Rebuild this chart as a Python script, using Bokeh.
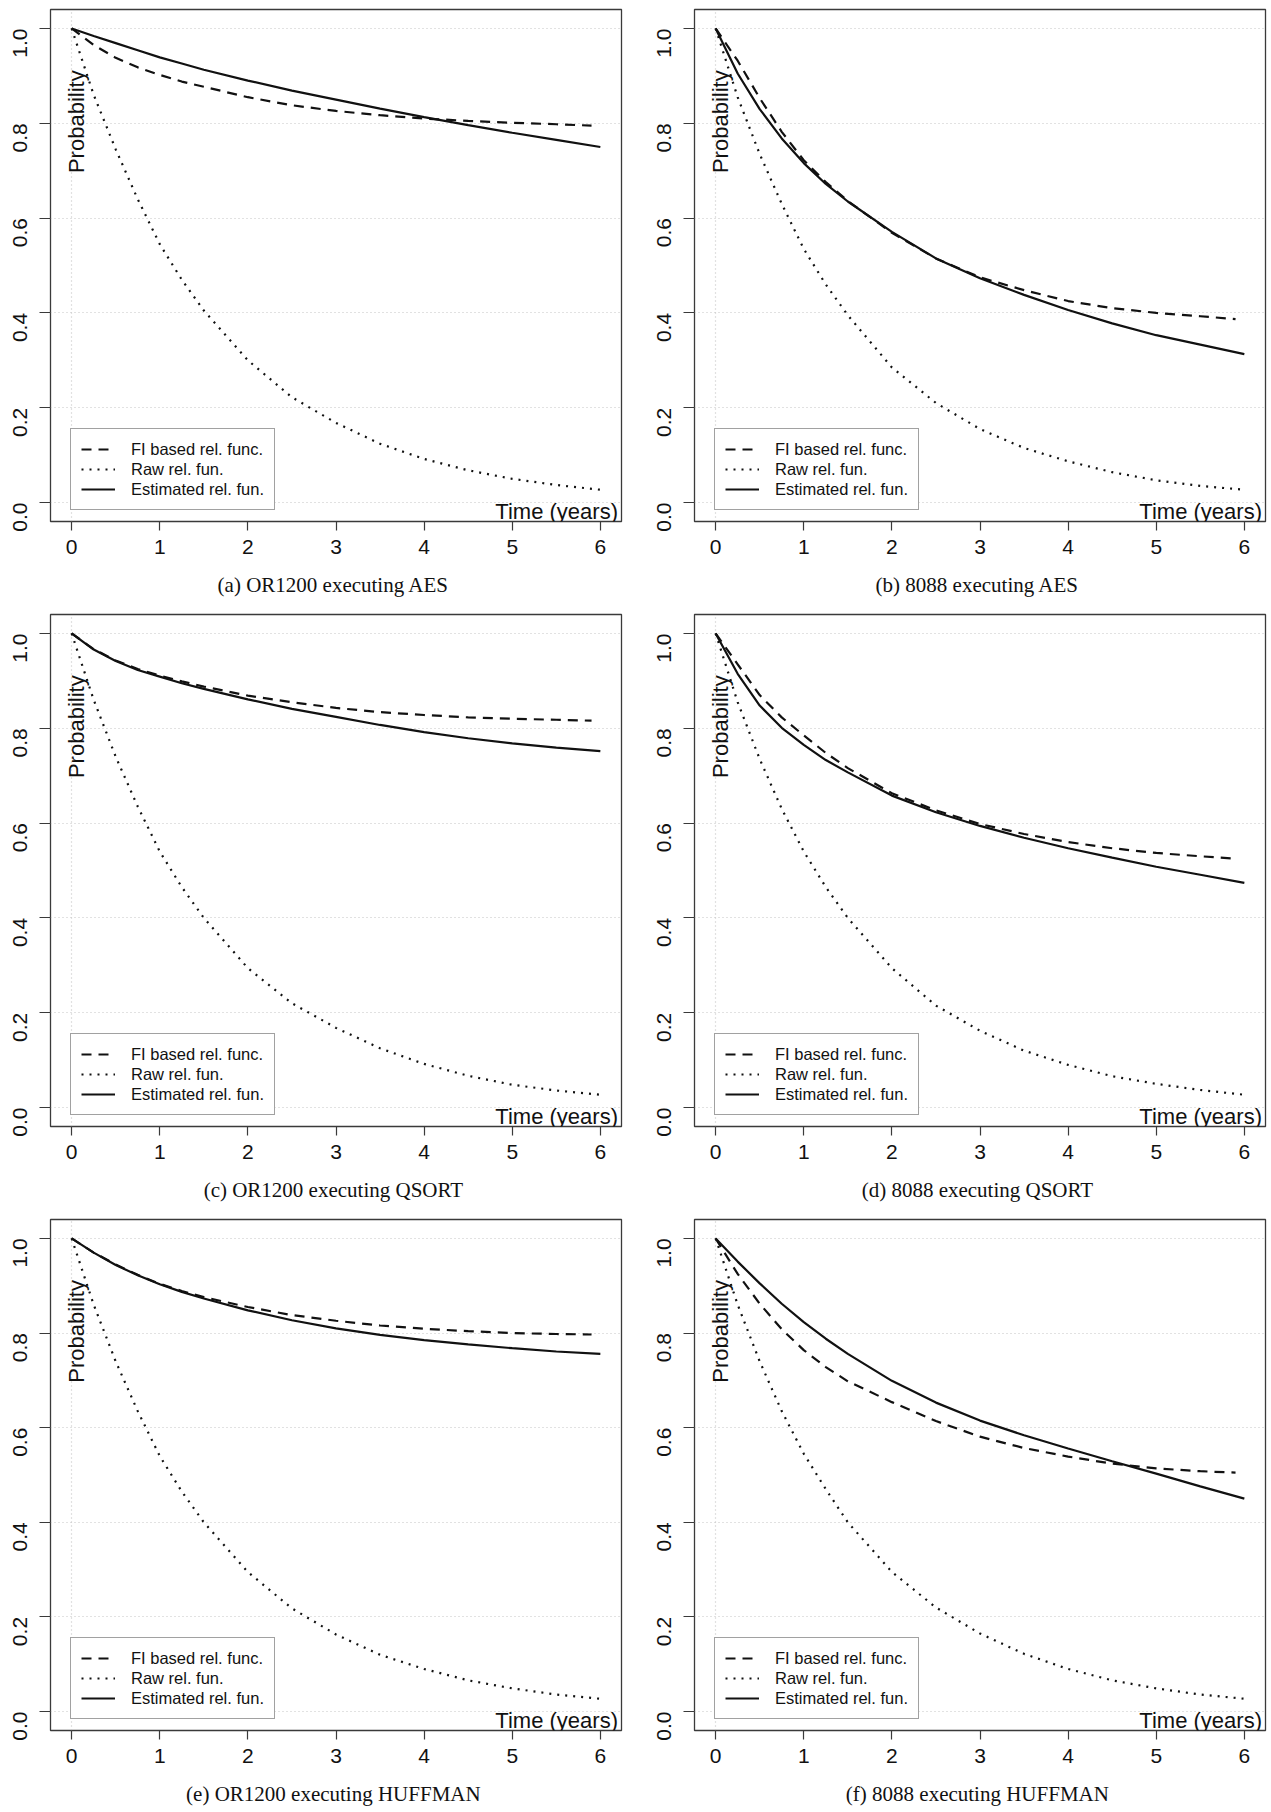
import math
from bokeh.plotting import figure
from bokeh.models import Range1d, FixedTicker, Label, Legend, LegendItem, PrintfTickFormatter
from bokeh.layouts import column, row
from bokeh.embed import file_html
from bokeh.resources import INLINE

# ---------------- data ----------------
t = [0, 0.25, 0.5, 0.75, 1, 1.25, 1.5, 2, 2.5, 3, 3.5, 4, 4.5, 5, 5.5, 6]
t_fi = [0, 0.25, 0.5, 0.75, 1, 1.25, 1.5, 2, 2.5, 3, 3.5, 4, 4.5, 5, 5.5, 5.9]

x_ticks = [0, 1, 2, 3, 4, 5, 6]
y_ticks = [0, 0.2, 0.4, 0.6, 0.8, 1.0]

legend_labels = ["FI based rel. func.", "Raw rel. fun.", "Estimated rel. fun."]
x_label = "Time (years)"
y_label = "Probability"

captions = [
    "(a)  OR1200 executing AES",
    "(b)  8088 executing AES",
    "(c)  OR1200 executing QSORT",
    "(d)  8088 executing QSORT",
    "(e)  OR1200 executing HUFFMAN",
    "(f)  8088 executing HUFFMAN",
]

# (a) OR1200 / AES
fi_a = [1.0, 0.965, 0.938, 0.918, 0.902, 0.888, 0.877, 0.855, 0.838, 0.826, 0.817, 0.810, 0.805, 0.801, 0.798, 0.795]
raw_a = [1.0, 0.86, 0.745, 0.64, 0.545, 0.47, 0.405, 0.30, 0.222, 0.168, 0.124, 0.092, 0.068, 0.050, 0.037, 0.027]
est_a = [1.0, 0.984, 0.969, 0.954, 0.939, 0.926, 0.913, 0.890, 0.869, 0.850, 0.831, 0.813, 0.796, 0.780, 0.765, 0.750]

# (b) 8088 / AES
fi_b = [1.0, 0.932, 0.853, 0.782, 0.722, 0.676, 0.636, 0.569, 0.515, 0.475, 0.448, 0.425, 0.410, 0.400, 0.393, 0.387]
raw_b = [1.0, 0.855, 0.735, 0.63, 0.535, 0.46, 0.395, 0.285, 0.21, 0.155, 0.115, 0.087, 0.064, 0.047, 0.035, 0.027]
est_b = [1.0, 0.905, 0.830, 0.768, 0.716, 0.672, 0.635, 0.571, 0.515, 0.473, 0.438, 0.406, 0.378, 0.353, 0.333, 0.313]

# (c) OR1200 / QSORT
fi_c = [1.0, 0.967, 0.943, 0.925, 0.911, 0.899, 0.888, 0.869, 0.855, 0.843, 0.834, 0.828, 0.823, 0.820, 0.818, 0.816]
raw_c = [1.0, 0.86, 0.74, 0.635, 0.54, 0.465, 0.40, 0.294, 0.22, 0.168, 0.125, 0.092, 0.067, 0.048, 0.036, 0.027]
est_c = [1.0, 0.966, 0.942, 0.923, 0.909, 0.895, 0.883, 0.861, 0.841, 0.824, 0.807, 0.792, 0.779, 0.768, 0.759, 0.752]

# (d) 8088 / QSORT
fi_d = [1.0, 0.935, 0.870, 0.823, 0.785, 0.748, 0.716, 0.663, 0.627, 0.598, 0.577, 0.560, 0.547, 0.537, 0.530, 0.525]
raw_d = [1.0, 0.855, 0.735, 0.63, 0.54, 0.465, 0.40, 0.294, 0.215, 0.162, 0.12, 0.09, 0.066, 0.050, 0.037, 0.027]
est_d = [1.0, 0.915, 0.848, 0.801, 0.765, 0.733, 0.707, 0.658, 0.623, 0.594, 0.569, 0.547, 0.527, 0.508, 0.491, 0.474]

# (e) OR1200 / HUFFMAN
fi_e = [1.0, 0.970, 0.945, 0.923, 0.904, 0.889, 0.876, 0.855, 0.838, 0.826, 0.816, 0.809, 0.804, 0.800, 0.798, 0.797]
raw_e = [1.0, 0.86, 0.74, 0.635, 0.54, 0.465, 0.40, 0.295, 0.218, 0.163, 0.12, 0.09, 0.066, 0.049, 0.036, 0.027]
est_e = [1.0, 0.970, 0.944, 0.922, 0.903, 0.887, 0.873, 0.848, 0.827, 0.810, 0.796, 0.785, 0.776, 0.768, 0.761, 0.756]

# (f) 8088 / HUFFMAN
fi_f = [1.0, 0.925, 0.862, 0.808, 0.764, 0.728, 0.698, 0.654, 0.614, 0.581, 0.557, 0.539, 0.524, 0.514, 0.508, 0.505]
raw_f = [1.0, 0.86, 0.74, 0.635, 0.545, 0.47, 0.40, 0.295, 0.22, 0.165, 0.122, 0.09, 0.066, 0.049, 0.036, 0.027]
est_f = [1.0, 0.951, 0.905, 0.862, 0.823, 0.788, 0.756, 0.699, 0.653, 0.615, 0.584, 0.556, 0.529, 0.503, 0.476, 0.450]

panels = [
    (fi_a, raw_a, est_a), (fi_b, raw_b, est_b),
    (fi_c, raw_c, est_c), (fi_d, raw_d, est_d),
    (fi_e, raw_e, est_e), (fi_f, raw_f, est_f),
]

SANS = "Liberation Sans"
SERIF = "Liberation Serif"
INK = "#111111"
BOX = "#3a3a3a"


def make_panel(idx):
    col = idx % 2
    rw = idx // 2
    fi, raw, est = panels[idx]
    if col == 0:
        W, bl, frame_w = 647, 50, 571
    else:
        W, bl, frame_w = 624, 46, 572
    br = W - bl - frame_w
    if rw == 0:
        H, bt, frame_h = 613, 9, 512
    elif rw == 1:
        H, bt, frame_h = 605, 1, 512
    else:
        H, bt, frame_h = 594, 1, 511
    bb = H - bt - frame_h

    p = figure(width=W, height=H, title=None,
               x_range=Range1d(-0.24, 6.24), y_range=Range1d(-0.04, 1.04),
               output_backend="svg", toolbar_location=None,
               min_border_left=bl, min_border_right=br,
               min_border_top=bt, min_border_bottom=bb)
    p.outline_line_color = BOX
    p.outline_line_width = 1.3
    p.background_fill_color = "white"
    p.border_fill_color = "white"

    # axes (R style: ticks outside, box drawn by the outline)
    for ax in (p.xaxis[0], p.yaxis[0]):
        ax.axis_line_color = None
        ax.major_tick_in = 0
        ax.minor_tick_line_color = None
        ax.major_tick_line_color = BOX
        ax.major_tick_line_width = 1.2
        ax.major_label_text_font = SANS
        ax.major_label_text_font_size = "21px"
        ax.major_label_text_color = "#111111"
    p.xaxis.ticker = FixedTicker(ticks=x_ticks)
    p.xaxis.major_tick_out = 9
    p.xaxis.major_label_standoff = 9
    p.yaxis.ticker = FixedTicker(ticks=y_ticks)
    p.yaxis.formatter = PrintfTickFormatter(format="%.1f")
    p.yaxis.major_label_orientation = math.pi / 2
    p.yaxis.major_tick_out = 11
    p.yaxis.major_label_standoff = 19

    # sub-figure caption under the x axis
    p.xaxis.axis_label = captions[idx]
    p.xaxis.axis_label_standoff = 16
    p.xaxis.axis_label_text_font = SERIF
    p.xaxis.axis_label_text_font_size = "21px"
    p.xaxis.axis_label_text_font_style = "normal"
    p.xaxis.axis_label_text_color = "#111111"

    # grid: dotted light grey, horizontal at y ticks, vertical only at 0
    p.ygrid.ticker = FixedTicker(ticks=y_ticks)
    p.xgrid.ticker = FixedTicker(ticks=[0])
    for g in (p.xgrid[0], p.ygrid[0]):
        g.grid_line_color = "#c4c4c4"
        g.grid_line_dash = "1 3"
        g.grid_line_width = 1.2

    r_fi = p.line(t_fi, fi, line_color=INK, line_width=2.2, line_dash="10 7")
    r_raw = p.line(t, raw, line_color=INK, line_width=2.2, line_dash="2 6")
    r_est = p.line(t, est, line_color=INK, line_width=2.2)

    legend = Legend(items=[
        LegendItem(label=legend_labels[0], renderers=[r_fi]),
        LegendItem(label=legend_labels[1], renderers=[r_raw]),
        LegendItem(label=legend_labels[2], renderers=[r_est]),
    ], location=(20, 11))
    legend.label_text_font = SANS
    legend.label_text_font_size = "16.5px"
    legend.label_text_color = "#111111"
    legend.padding = 10
    legend.spacing = 0
    legend.glyph_width = 34
    legend.glyph_height = 20
    legend.label_height = 20
    legend.label_standoff = 16
    legend.border_line_color = "#444444"
    legend.border_line_width = 1.2
    legend.background_fill_color = "white"
    legend.background_fill_alpha = 1.0
    legend.margin = 0
    p.add_layout(legend)

    p.add_layout(Label(x=6.2, y=-0.018, text=x_label, text_align="right",
                       text_baseline="alphabetic", text_font=SANS,
                       text_font_size="22px", text_color="#111111"))
    p.add_layout(Label(x=0.06, y=0.695, text=y_label, angle=math.pi / 2,
                       text_align="left", text_baseline="alphabetic",
                       text_font=SANS, text_font_size="22px", text_color="#111111"))
    return p


figs = [make_panel(i) for i in range(6)]
layout = column(row(figs[0], figs[1]), row(figs[2], figs[3]), row(figs[4], figs[5]))

open("out.html", "w").write(file_html(layout, INLINE))
